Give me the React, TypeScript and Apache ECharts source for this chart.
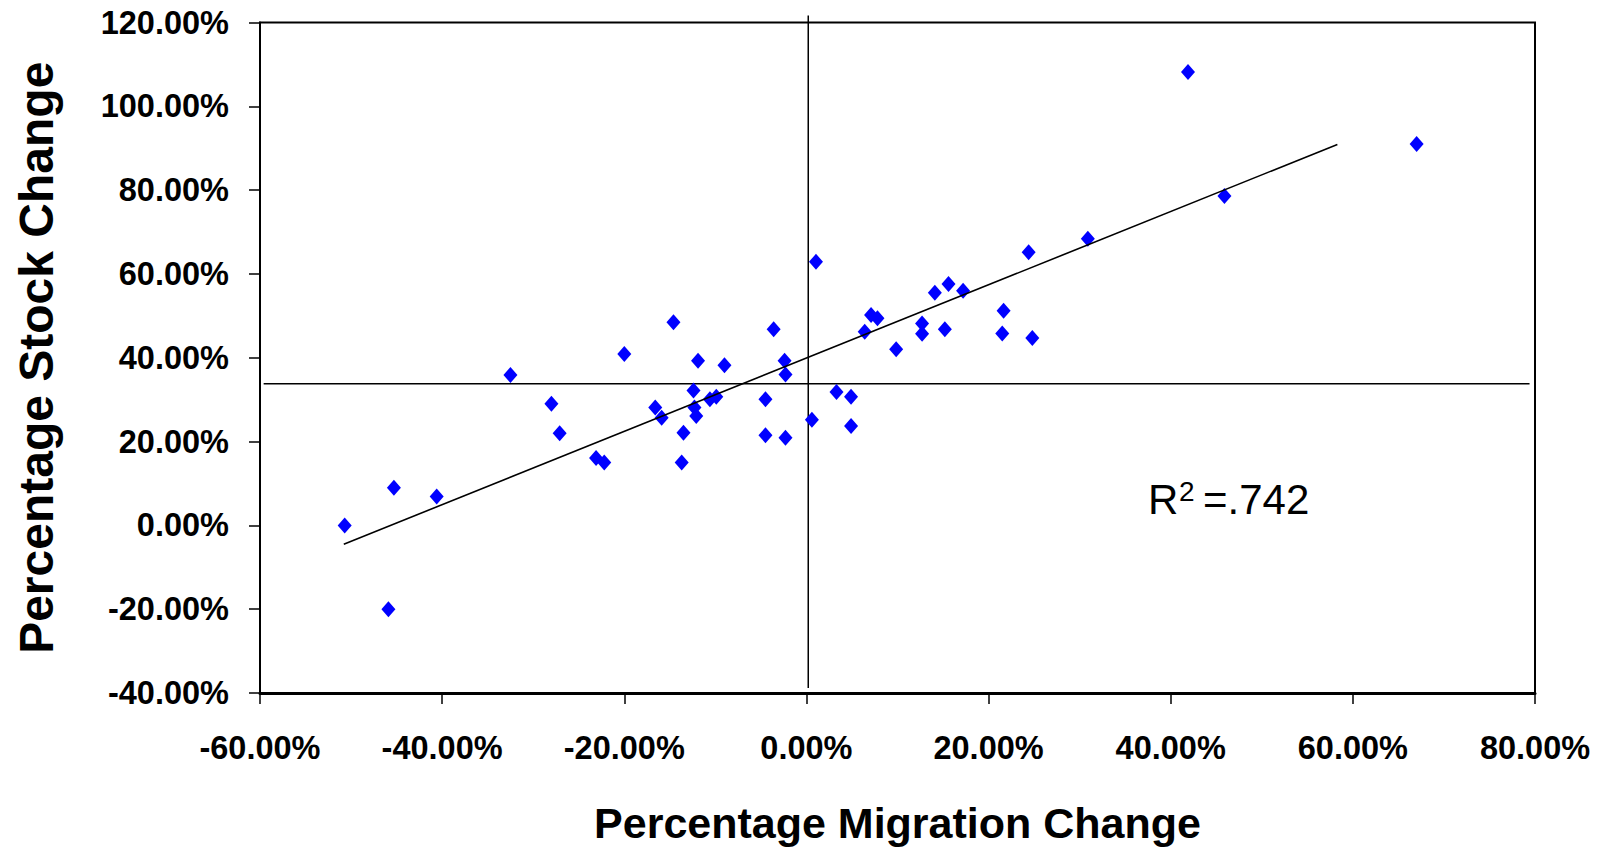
import React, { useEffect, useRef } from "react";
import * as echarts from "echarts";

// Percentage migration change (x) and percentage stock change (y), in %
const migrationChange = [
  -50.7, -45.9, -45.3, -40.6, -32.5, -28.0, -27.1, -23.1, -22.2, -20.0,
  -16.6, -15.9, -14.6, -13.7, -13.5, -12.4, -12.3, -12.1, -11.9, -10.6,
  -9.9, -9.0, -4.5, -4.5, -3.6, -2.4, -2.3, -2.3, 0.6, 1.05,
  3.3, 4.9, 4.9, 6.4, 7.1, 7.8, 9.85, 12.7, 12.7, 14.1,
  15.2, 15.6, 17.2, 21.5, 21.65, 24.4, 24.8, 30.9, 41.9, 45.9,
  67.0,
];
const stockChange = [
  0.0, -20.0, 9.0, 6.9, 35.9, 29.0, 22.0, 16.1, 15.0, 40.9,
  28.1, 25.7, 48.5, 15.0, 22.1, 32.2, 28.1, 26.1, 39.3, 30.1,
  30.7, 38.2, 30.1, 21.5, 46.8, 39.3, 36.0, 20.9, 25.2, 62.9,
  31.8, 30.7, 23.7, 46.2, 50.2, 49.4, 42.0, 48.2, 45.7, 55.5,
  46.8, 57.6, 56.0, 45.8, 51.2, 65.2, 44.7, 68.4, 108.2, 78.6,
  91.0,
];

// Linear trend line end points
const trendX = [-50.8, 58.3];
const trendY = [-4.5, 90.9];

// Reference (mean) lines
const meanStock = 33.8;
const meanStockSpanX = [-59.6, 79.4];
const meanMigration = 0.2;
const meanMigrationSpanY = [-38.8, 121.7];

const rSquaredParts = ["R", "2", "=.742"];

const xAxisRange = { min: -60, max: 80, interval: 20 };
const yAxisRange = { min: -40, max: 120, interval: 20 };

const FONT = "'Liberation Sans', Arial, Helvetica, sans-serif";

export default function App() {
  const ref = useRef<HTMLDivElement>(null);

  useEffect(() => {
    document.body.style.margin = "0";
    if (!ref.current) return;
    const chart = echarts.init(ref.current, undefined, { renderer: "svg" });

    const points = migrationChange.map((x, i) => [x, stockChange[i]]);
    const fmt = (v: number) => `${v.toFixed(2)}%`;

    chart.setOption({
      animation: false,
      backgroundColor: "#ffffff",
      grid: {
        left: 260,
        right: 66,
        top: 22.5,
        bottom: 157,
        show: true,
        borderColor: "#000000",
        borderWidth: 2,
        backgroundColor: "transparent",
      },
      xAxis: {
        type: "value",
        ...xAxisRange,
        name: "Percentage Migration Change",
        nameLocation: "middle",
        nameGap: 108,
        nameTextStyle: {
          fontFamily: FONT,
          fontWeight: "bold",
          fontSize: 43,
          color: "#000000",
        },
        axisLine: { show: true, onZero: false, lineStyle: { color: "#000000", width: 3 } },
        axisTick: { show: true, inside: false, length: 11, lineStyle: { color: "#000000", width: 1.5 } },
        axisLabel: {
          formatter: fmt,
          margin: 38.5,
          fontFamily: FONT,
          fontWeight: "bold",
          fontSize: 32.5,
          color: "#000000",
        },
        splitLine: { show: false },
      },
      yAxis: {
        type: "value",
        ...yAxisRange,
        name: "Percentage Stock Change",
        nameLocation: "middle",
        nameGap: 200,
        nameTextStyle: {
          fontFamily: FONT,
          fontWeight: "bold",
          fontSize: 48,
          color: "#000000",
        },
        axisLine: { show: true, onZero: false, lineStyle: { color: "#000000", width: 2 } },
        axisTick: { show: true, inside: false, length: 11, lineStyle: { color: "#000000", width: 1.5 } },
        axisLabel: {
          formatter: fmt,
          margin: 31,
          fontFamily: FONT,
          fontWeight: "bold",
          fontSize: 32.5,
          color: "#000000",
        },
        splitLine: { show: false },
      },
      series: [
        {
          type: "line",
          data: meanStockSpanX.map((x) => [x, meanStock]),
          showSymbol: false,
          symbol: "none",
          clip: false,
          lineStyle: { color: "#000000", width: 1.5 },
          z: 3,
          silent: true,
        },
        {
          type: "line",
          data: meanMigrationSpanY.map((y) => [meanMigration, y]),
          showSymbol: false,
          symbol: "none",
          clip: false,
          lineStyle: { color: "#000000", width: 1.5 },
          z: 3,
          silent: true,
        },
        {
          type: "scatter",
          data: points,
          symbol: "diamond",
          symbolSize: [14, 16],
          itemStyle: { color: "#0000ff", opacity: 1 },
          z: 4,
        },
        {
          type: "line",
          data: trendX.map((x, i) => [x, trendY[i]]),
          showSymbol: false,
          symbol: "none",
          lineStyle: { color: "#000000", width: 1.6 },
          z: 5,
          silent: true,
        },
      ],
      graphic: [
        {
          type: "text",
          x: 1148,
          y: 499.5,
          style: {
            text: rSquaredParts[0],
            fontFamily: FONT,
            fontSize: 42,
            fill: "#000000",
            align: "left",
            verticalAlign: "middle",
          },
        },
        {
          type: "text",
          x: 1179,
          y: 491.5,
          style: {
            text: rSquaredParts[1],
            fontFamily: FONT,
            fontSize: 28,
            fill: "#000000",
            align: "left",
            verticalAlign: "middle",
          },
        },
        {
          type: "text",
          x: 1203,
          y: 499.5,
          style: {
            text: rSquaredParts[2],
            fontFamily: FONT,
            fontSize: 42,
            fill: "#000000",
            align: "left",
            verticalAlign: "middle",
          },
        },
      ],
    });

    return () => chart.dispose();
  }, []);

  return <div ref={ref} style={{ width: 1601, height: 850 }} />;
}
